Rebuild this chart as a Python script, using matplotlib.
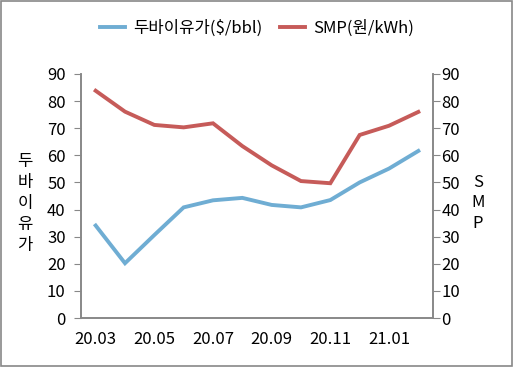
import matplotlib.pyplot as plt
from matplotlib.patches import Rectangle

plt.rcParams['font.family'] = ['Noto Sans CJK KR', 'DejaVu Sans']

# ------------------------------------------------------------
# DATA
# ------------------------------------------------------------
months = ["20.03", "20.04", "20.05", "20.06", "20.07", "20.08",
          "20.09", "20.10", "20.11", "20.12", "21.01", "21.02"]
dubai = [34.1, 20.2, 30.6, 40.8, 43.4, 44.3, 41.7, 40.8, 43.5, 50.0, 55.1, 61.6]
smp = [83.8, 76.1, 71.2, 70.3, 71.8, 63.4, 56.3, 50.5, 49.7, 67.5, 70.9, 76.0]
yticks = list(range(0, 91, 10))

blue = "#6FADD3"
red = "#C65B59"
grey = "#888888"

# ------------------------------------------------------------
# PLOT
# ------------------------------------------------------------
fig = plt.figure(figsize=(5.14, 3.67), dpi=100)
ax = fig.add_axes([0.1576, 0.1335, 0.6848, 0.665])
ax2 = ax.twinx()

x = list(range(len(months)))
l1, = ax.plot(x, dubai, color=blue, linewidth=2.8, solid_joinstyle="miter")
l2, = ax.plot(x, smp, color=red, linewidth=2.8, solid_joinstyle="miter")

for a in (ax, ax2):
    a.set_ylim(0, 90)
    a.set_yticks(yticks)
    a.set_xlim(-0.5, 11.5)
    a.spines["top"].set_visible(False)
    for s in ("left", "right", "bottom"):
        a.spines[s].set_color(grey)
        a.spines[s].set_linewidth(1.2)
    a.tick_params(axis="y", length=5, color=grey, labelsize=12)
ax.tick_params(axis="y", pad=6)
ax2.tick_params(axis="y", pad=1)

ax.set_xticks(x[::2])
ax.set_xticklabels(months[::2])
ax.tick_params(axis="x", length=0, labelsize=12, pad=9)

fig.text(0.049, 0.445, "두\n바\n이\n유\n가", ha="center", va="center",
         fontsize=12, linespacing=1.3)
fig.text(0.93, 0.447, "S\nM\nP", ha="center", va="center",
         fontsize=12, linespacing=1.25)

fig.legend([l1, l2], ["두바이유가($/bbl)", "SMP(원/kWh)"], loc="center",
           bbox_to_anchor=(0.5, 0.924), ncol=2, frameon=False, fontsize=12,
           handlelength=1.5, columnspacing=1.0, handletextpad=0.5)

fig.patches.append(Rectangle((0.002, 0.003), 0.995, 0.994, transform=fig.transFigure,
                             fill=False, edgecolor=grey, linewidth=1.2))

fig.savefig("out.png", dpi=100)
